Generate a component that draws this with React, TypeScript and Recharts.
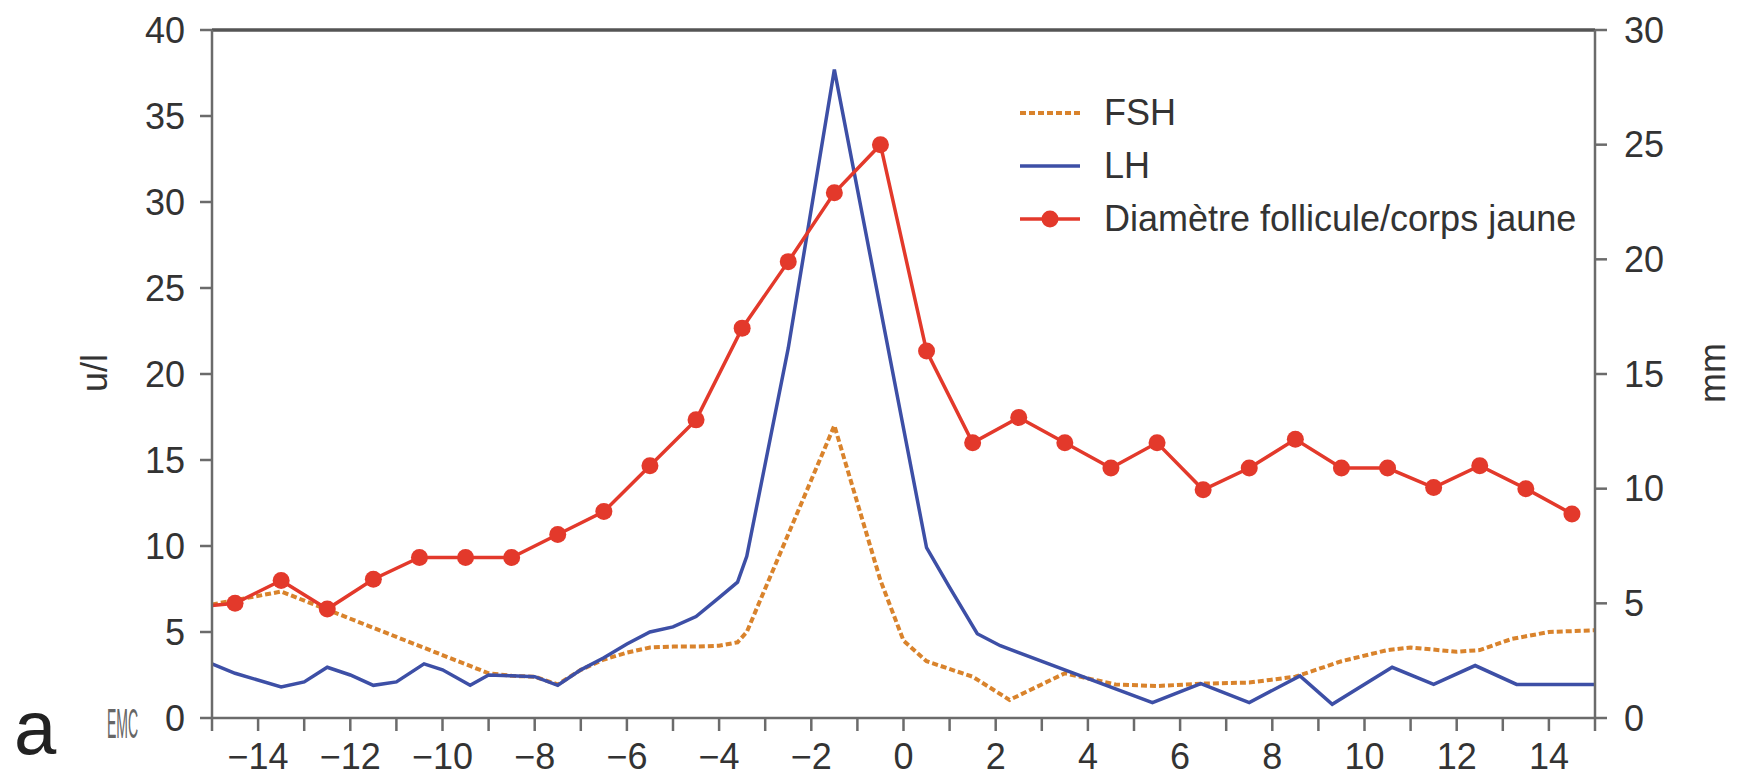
import { LineChart, Line, XAxis, YAxis, ReferenceLine, Legend } from 'recharts';

// FSH (u/l, left axis)
const fshDays = [-15, -13.5, -12.5, -9, -8.5, -8, -7.5, -7, -6.5, -6, -5.5, -5, -4.5, -4, -3.6, -3.4, -1.5, -1, -0.5, 0, 0.5, 1.5, 2.3, 3.5, 4, 4.6, 5.5, 6.5, 7.5, 8.5, 9.5, 10.5, 11, 12, 12.5, 13.2, 14, 15];
const fshValues = [6.6, 7.35, 6.3, 2.6, 2.45, 2.4, 1.95, 2.8, 3.4, 3.8, 4.1, 4.15, 4.15, 4.2, 4.4, 5.0, 17.0, 12.5, 8.0, 4.5, 3.3, 2.4, 1.05, 2.6, 2.3, 1.95, 1.86, 2.0, 2.06, 2.4, 3.3, 3.95, 4.1, 3.85, 3.95, 4.6, 5.0, 5.1];

// LH (u/l, left axis)
const lhDays = [-15, -14.5, -13.5, -13, -12.5, -12, -11.5, -11, -10.4, -10, -9.4, -9, -8.5, -8, -7.5, -7, -6.5, -6, -5.5, -5, -4.5, -4, -3.6, -3.4, -2.5, -1.5, 0.5, 1, 1.6, 2.1, 3.7, 5.4, 6.45, 7.5, 8.6, 9.3, 10.6, 11.5, 12.4, 13.3, 15];
const lhValues = [3.15, 2.6, 1.8, 2.1, 2.95, 2.5, 1.9, 2.1, 3.15, 2.8, 1.9, 2.5, 2.45, 2.4, 1.9, 2.8, 3.5, 4.3, 5.0, 5.3, 5.9, 7.0, 7.9, 9.4, 21.5, 37.7, 9.9, 7.6, 4.9, 4.2, 2.6, 0.9, 2.0, 0.9, 2.45, 0.8, 2.95, 1.95, 3.05, 1.95, 1.95];

// Diamètre follicule/corps jaune (mm, right axis)
const diamDays = [-15, -14.5, -13.5, -12.5, -11.5, -10.5, -9.5, -8.5, -7.5, -6.5, -5.5, -4.5, -3.5, -2.5, -1.5, -0.5, 0.5, 1.5, 2.5, 3.5, 4.5, 5.5, 6.5, 7.5, 8.5, 9.5, 10.5, 11.5, 12.5, 13.5, 14.5];
const diamValues = [4.9, 5.0, 6.0, 4.75, 6.05, 7.0, 7.0, 7.0, 8.0, 9.0, 11.0, 13.0, 17.0, 19.9, 22.9, 25.0, 16.0, 12.0, 13.1, 12.0, 10.9, 12.0, 9.95, 10.9, 12.15, 10.9, 10.9, 10.05, 11.0, 10.0, 8.9];

const xTicks = [-15, -14, -13, -12, -11, -10, -9, -8, -7, -6, -5, -4, -3, -2, -1, 0, 1, 2, 3, 4, 5, 6, 7, 8, 9, 10, 11, 12, 13, 14, 15];
const leftTicks = [0, 5, 10, 15, 20, 25, 30, 35, 40];
const rightTicks = [0, 5, 10, 15, 20, 25, 30];

const fshData = fshDays.map((d, i) => ({ day: d, fsh: fshValues[i] }));
const lhData = lhDays.map((d, i) => ({ day: d, lh: lhValues[i] }));
const diamData = diamDays.map((d, i) => ({ day: d, diam: diamValues[i] }));

const FONT = '"Liberation Sans", Arial, Helvetica, sans-serif';
const AXIS = '#6b6b6b';
const TEXT = '#333';
const RED = '#e3392b';
const BLUE = '#3d4fa6';
const ORANGE = '#d9832c';

const tickStyle = { fontSize: 36, fill: TEXT, fontFamily: FONT };

const formatX = (v: number) => {
  if (Math.abs(v) % 2 === 1 || Math.abs(v) === 15) return '';
  return v < 0 ? `\u2212${-v}` : `${v}`;
};

const RedDot = (props: any) => {
  const { cx, cy, payload, index } = props;
  if (payload.day <= -15) return <g key={`d${index}`} />;
  return <circle key={`d${index}`} cx={cx} cy={cy} r={8.5} fill={RED} stroke="none" />;
};

const renderLegend = () => (
  <div style={{ fontFamily: FONT, fontSize: 36, color: TEXT, lineHeight: '53px' }}>
    <div style={{ display: 'flex', alignItems: 'center' }}>
      <svg width={66} height={20}><line x1={2} y1={10} x2={62} y2={10} stroke={ORANGE} strokeWidth={4} strokeDasharray="6 3" /></svg>
      <span style={{ marginLeft: 20 }}>FSH</span>
    </div>
    <div style={{ display: 'flex', alignItems: 'center' }}>
      <svg width={66} height={20}><line x1={2} y1={10} x2={62} y2={10} stroke={BLUE} strokeWidth={3.5} /></svg>
      <span style={{ marginLeft: 20 }}>LH</span>
    </div>
    <div style={{ display: 'flex', alignItems: 'center' }}>
      <svg width={66} height={20}>
        <line x1={2} y1={10} x2={62} y2={10} stroke={RED} strokeWidth={3.5} />
        <circle cx={32} cy={10} r={8.5} fill={RED} />
      </svg>
      <span style={{ marginLeft: 20 }}>Diamètre follicule/corps jaune</span>
    </div>
  </div>
);

export default function App() {
  return (
    <div style={{ position: 'relative', width: 1743, height: 777, margin: -8, background: '#fff' }}>
      <LineChart width={1743} height={777} margin={{ top: 30, right: 0, bottom: 0, left: 0 }}>
        <XAxis
          type="number"
          dataKey="day"
          domain={[-15, 15]}
          ticks={xTicks}
          interval={0}
          tickFormatter={formatX}
          height={59}
          tickSize={13}
          tickMargin={12}
          tick={tickStyle}
          axisLine={{ stroke: AXIS, strokeWidth: 2.5 }}
          tickLine={{ stroke: AXIS, strokeWidth: 2.5 }}
          allowDataOverflow
        />
        <YAxis
          yAxisId="left"
          domain={[0, 40]}
          ticks={leftTicks}
          interval={0}
          width={212}
          tickSize={12}
          tickMargin={15}
          tick={tickStyle}
          axisLine={{ stroke: AXIS, strokeWidth: 2.5 }}
          tickLine={{ stroke: AXIS, strokeWidth: 2.5 }}
        />
        <YAxis
          yAxisId="right"
          orientation="right"
          domain={[0, 30]}
          ticks={rightTicks}
          interval={0}
          width={148}
          tickSize={12}
          tickMargin={17}
          tick={tickStyle}
          axisLine={{ stroke: AXIS, strokeWidth: 2.5 }}
          tickLine={{ stroke: AXIS, strokeWidth: 2.5 }}
        />
        <ReferenceLine yAxisId="left" y={40} stroke="#555" strokeWidth={3.5} />
        <Legend
          layout="vertical"
          verticalAlign="middle"
          align="center"
          content={renderLegend}
          wrapperStyle={{ left: 1018, top: 86, width: 600 }}
        />
        <Line
          yAxisId="left"
          data={fshData}
          dataKey="fsh"
          type="linear"
          stroke={ORANGE}
          strokeWidth={4}
          strokeDasharray="6 3"
          dot={false}
          isAnimationActive={false}
        />
        <Line
          yAxisId="left"
          data={lhData}
          dataKey="lh"
          type="linear"
          stroke={BLUE}
          strokeWidth={3.5}
          dot={false}
          isAnimationActive={false}
        />
        <Line
          yAxisId="right"
          data={diamData}
          dataKey="diam"
          type="linear"
          stroke={RED}
          strokeWidth={3.5}
          dot={RedDot}
          isAnimationActive={false}
        />
      </LineChart>
      <div style={{ position: 'absolute', left: 95, top: 373, transform: 'translate(-50%, -50%) rotate(-90deg)', fontFamily: FONT, fontSize: 36, color: TEXT }}>u/l</div>
      <div style={{ position: 'absolute', left: 1713, top: 373, transform: 'translate(-50%, -50%) rotate(-90deg)', fontFamily: FONT, fontSize: 36, color: TEXT }}>mm</div>
      <div style={{ position: 'absolute', left: 14, top: 690, fontFamily: FONT, fontSize: 76, color: '#222', lineHeight: 1 }}>a</div>
      <div style={{ position: 'absolute', left: 107, top: 702, fontFamily: FONT, fontSize: 18, color: '#666', lineHeight: 1, transform: 'scale(0.78, 2.4)', transformOrigin: 'left top' }}>EMC</div>
    </div>
  );
}
